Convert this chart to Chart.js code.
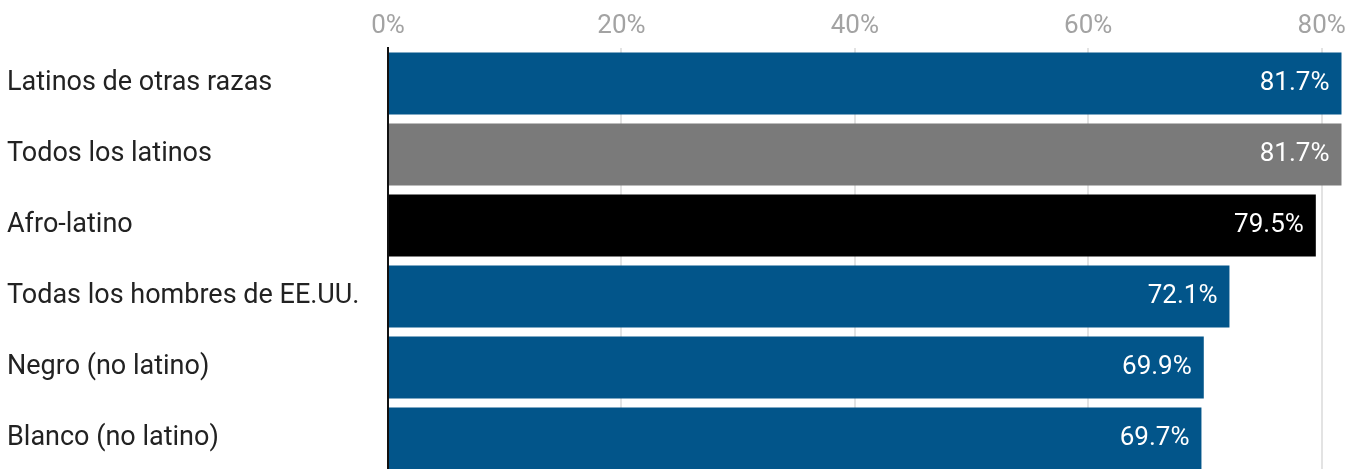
<!DOCTYPE html>
<html lang="es">
<head>
    <meta charset="UTF-8">
    <title>Hombres: participación laboral</title>
    <script src="https://cdn.jsdelivr.net/npm/chart.js"></script>
    <style>
        html, body { margin: 0; padding: 0; background: #fff; overflow: hidden; }
        #wrap { position: relative; width: 1359px; height: 474px; }
    </style>
</head>
<body>
    <div id="wrap">
        <canvas id="barChart"></canvas>
    </div>
    <script>
        const categories = [
            'Latinos de otras razas',
            'Todos los latinos',
            'Afro-latino',
            'Todas los hombres de EE.UU.',
            'Negro (no latino)',
            'Blanco (no latino)'
        ];
        const values = [81.7, 81.7, 79.5, 72.1, 69.9, 69.7];
        const barColors = ['#02558a', '#7a7a7a', '#000000', '#02558a', '#02558a', '#02558a'];
        const tickValues = [0, 20, 40, 60, 80];

        // white value text at the inner right end of each bar
        const valueLabels = {
            id: 'valueLabels',
            afterDatasetsDraw(chart) {
                const ctx = chart.ctx;
                const meta = chart.getDatasetMeta(0);
                ctx.save();
                ctx.font = '26px Roboto';
                ctx.fillStyle = '#ffffff';
                ctx.textAlign = 'right';
                ctx.textBaseline = 'middle';
                meta.data.forEach((bar, i) => {
                    ctx.fillText(values[i].toFixed(1) + '%', bar.x - 12, bar.y);
                });
                ctx.restore();
            }
        };

        new Chart(document.getElementById('barChart'), {
            type: 'bar',
            data: {
                labels: categories,
                datasets: [{
                    data: values,
                    backgroundColor: barColors,
                    barPercentage: 0.873,
                    categoryPercentage: 1
                }]
            },
            options: {
                indexAxis: 'y',
                responsive: true,
                maintainAspectRatio: false,
                animation: false,
                layout: { padding: { left: 7, right: 0, top: 0, bottom: 0 } },
                plugins: {
                    legend: { display: false },
                    tooltip: { enabled: false }
                },
                scales: {
                    x: {
                        position: 'top',
                        min: 0,
                        max: 83.2,
                        afterBuildTicks(scale) {
                            scale.ticks = tickValues.map(v => ({ value: v }));
                        },
                        afterFit(scale) { scale.height = 48; },
                        ticks: {
                            padding: 6,
                            color: '#a3a3a3',
                            font: { family: 'Roboto', size: 26 },
                            callback: v => v + '%'
                        },
                        grid: { color: '#e3e3e3', lineWidth: 2, drawTicks: false },
                        border: { display: false }
                    },
                    y: {
                        afterFit(scale) {
                            // labels sit beside the bars, no extra room needed above or below
                            scale.width = 381;
                            scale.paddingTop = 0;
                            scale.paddingBottom = 0;
                        },
                        ticks: {
                            crossAlign: 'far',
                            color: '#222222',
                            font: { family: 'Roboto', size: 27 }
                        },
                        grid: { display: false },
                        border: { display: true, color: '#111111', width: 2 }
                    }
                }
            },
            plugins: [valueLabels]
        });
    </script>
</body>
</html>
